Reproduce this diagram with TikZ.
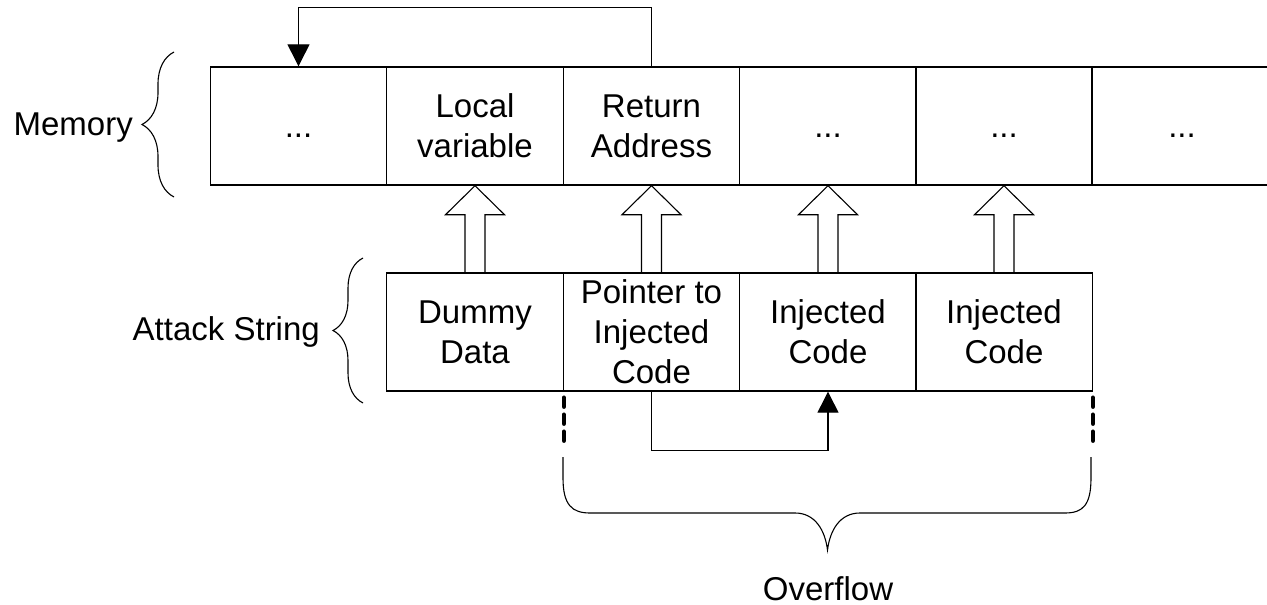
\documentclass[tikz,border=0pt]{standalone}
\usepackage{fontspec}
\setmainfont{Liberation Sans}
\usetikzlibrary{arrows.meta,decorations.pathreplacing,calc}
\newcommand\blockup[2]{\draw[blk] let \p1=(#1.north), \p2=(#2.south) in
  (\x1-10pt,\y1) -- (\x1-10pt,\y2-29pt) -- (\x1-29.5pt,\y2-29pt) -- (\x1,\y2)
  -- (\x1+29.5pt,\y2-29pt) -- (\x1+10pt,\y2-29pt) -- (\x1+10pt,\y1);}
\newcommand\dotsfill{\vphantom{A}...}
\begin{document}
\begin{tikzpicture}[x=1pt,y=-1pt,
  txt/.style={font=\fontsize{33}{40}\selectfont},
  cell/.style={draw,line width=1.4pt,minimum width=176.5pt,minimum height=118pt,
    inner sep=0pt,align=center,txt},
  lbl/.style={inner sep=0pt,txt},
  blk/.style={line width=1.1pt,line join=miter},
  conn/.style={line width=1.3pt,-{Triangle[length=22pt,width=22pt]}},
  connb/.style={line width=1.3pt,-{Triangle[length=21pt,width=21pt]}},
  ovdash/.style={line width=4.5pt,line cap=round,dash pattern=on 9pt off 8pt},
  brc/.style={line width=1.1pt,decorate,decoration={brace,amplitude=#1}},
  brline/.style={line width=1.1pt},
]
\fill[white] (0,0) rectangle (1267,605);
\useasboundingbox (0,0) rectangle (1267,605);

% Memory row
\node[cell] (m1) at (298.5,126) {\dotsfill};
\node[cell] (m2) at (475,126) {Local\\variable};
\node[cell] (m3) at (651.5,126) {Return\\Address};
\node[cell] (m4) at (828,126) {\dotsfill};
\node[cell] (m5) at (1004,126) {\dotsfill};
\node[cell,minimum width=180pt] (m6) at (1182,126) {\dotsfill};

% Attack string row
\node[cell] (a1) at (475,332) {Dummy\\Data};
\node[cell] (a2) at (651.5,332) {Pointer to\\Injected\\Code};
\node[cell] (a3) at (828,332) {Injected\\Code};
\node[cell] (a4) at (1004,332) {Injected\\Code};

% block arrows
\blockup{a1}{m2}
\blockup{a2}{m3}
\blockup{a3}{m4}
\blockup{a4}{m5}

% return address arrow
\draw[conn] (m3.north) -- ++(0,-59) -| (m1.north);
% pointer arrow
\draw[connb] (a2.south) -- ++(0,59) -| (a3.south);

% overflow dashed marks
\draw[ovdash] ([yshift=-6pt]a1.south east) -- ([yshift=-49pt]a1.south east);
\draw[ovdash] ([yshift=-6pt]a4.south east) -- ([yshift=-49pt]a4.south east);

% labels
\node[lbl,anchor=base east] (memlbl) at (133,135) {Memory};
\node[lbl,anchor=base east] (atklbl) at (320,340) {Attack String};
\node[lbl,anchor=base] (ovf) at (828,600) {Overflow};

% braces
\draw[brc=32pt] (174,197) -- (174,52);
\draw[brc=30pt] (363,403) -- (363,258);
\coordinate (ol) at (563,457);
\coordinate (or) at (1091,457);
\coordinate (ot) at (827.5,550);
\draw[brline] (ol) -- (563,478) .. controls (563,505) and (572,513) .. (590,513)
  -- (795,513) .. controls (815,513) and (825,530) .. (ot)
  .. controls (830,530) and (840,513) .. (860,513)
  -- (1065,513) .. controls (1083,513) and (1091,505) .. (1091,478) -- (or);
\end{tikzpicture}
\end{document}
